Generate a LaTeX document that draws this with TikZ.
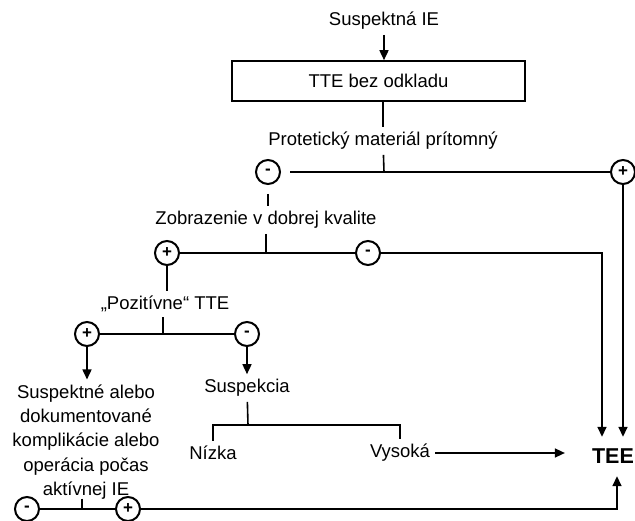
\documentclass[tikz,border=0pt]{standalone}
\usepackage{fontspec}
\setmainfont{Liberation Sans}
\usepackage{tikz}
\usetikzlibrary{arrows.meta,positioning,calc}

\begin{document}
\begin{tikzpicture}[x=1pt,y=-1pt,
    txt/.style={font=\fontsize{18.5}{24.3}\selectfont,inner sep=5pt},
    sgn/.style={circle,draw,line width=2pt,minimum size=24pt,inner sep=0pt,font=\bfseries\fontsize{17}{17}\selectfont},
    ln/.style={line width=1.6pt},
    arr/.style={ln,-{Triangle[length=10pt,width=9pt]}}]
\useasboundingbox (0,0) rectangle (635,521);
% start and first echo
\node[txt] (susp) at (384,21) {Suspektná IE};
\node[draw,ln,minimum width=293pt,minimum height=40pt,font=\fontsize{18.5}{22}\selectfont] (tte) at (378.5,81) {TTE bez odkladu};
\draw[arr] (susp) -- (susp |- tte.north);
% prosthetic material
\node[txt] (prot) at (383,141) {Protetický materiál prítomný};
\draw[ln] (tte.south -| prot) -- (prot);
\node[sgn] (p1m) at (268,172) {-};
\node[sgn] (p1p) at (623,172) {+};
\coordinate (j1) at (384,172);
\draw[ln] (prot) -- (j1);
\draw[ln] ([xshift=9pt]p1m.east) -- (p1p);
% image quality
\node[txt] (zobr) at (266,220) {Zobrazenie v dobrej kvalite};
\draw[ln] ([yshift=-9pt]p1m.south) -- (p1m |- zobr.north);
\node[sgn] (z1p) at (167,253) {+};
\node[sgn] (z1m) at (368,253) {-};
\coordinate (j2) at (266,253);
\draw[ln] (zobr.south -| j2) -- (j2);
\draw[ln] (z1p) -- (z1m);
% TEE
\node[font=\bfseries\fontsize{21.5}{21.5}\selectfont,inner xsep=27pt,inner ysep=0pt,minimum height=39pt] (tee) at (613,456.5) {TEE};
\coordinate (c1) at (602,253);
\draw[arr] (z1m) -- (c1) -- (c1 |- tee.north);
\draw[arr] (p1p) -- (p1p |- tee.north);
% positive TTE
\node[txt] (poz) at (165,304) {„Pozitívne“ TTE};
\draw[ln] (z1p) -- (z1p |- poz.north);
\node[sgn] (pp) at (87,334) {+};
\node[sgn] (pm) at (247,334) {-};
\coordinate (j3) at (163,334);
\draw[ln] (poz.south -| j3) -- (j3);
\draw[ln] (pp) -- (pm);
% complications
\node[txt,align=center] (kompl) at (86,442) {Suspektné alebo\\dokumentované\\komplikácie alebo\\operácia počas\\aktívnej IE};
\draw[arr] (pp) -- (pp |- kompl.north);
% suspicion
\node[txt] (susk) at (247,388) {Suspekcia};
\draw[arr] (pm) -- (susk);
\coordinate (j4) at (248,425);
\node[txt] (niz) at (213,453) {Nízka};
\node[txt] (vys) at (400,453) {Vysoká};
\draw[ln] (susk) -- (j4);
\draw[ln] (niz) |- (j4) -| (vys);
\draw[arr] (vys) -- (vys -| tee.west);
% bottom row
\node[sgn] (km) at (27,509) {-};
\node[sgn] (kp) at (128,509) {+};
\coordinate (j5) at (82,509);
\draw[ln] ([yshift=6pt]kompl.south -| j5) -- (j5);
\draw[ln] (km) -- (kp);
\coordinate (c3) at (617,509);
\draw[arr] (kp) -- (c3) -- (c3 |- tee.south);
\end{tikzpicture}
\end{document}
